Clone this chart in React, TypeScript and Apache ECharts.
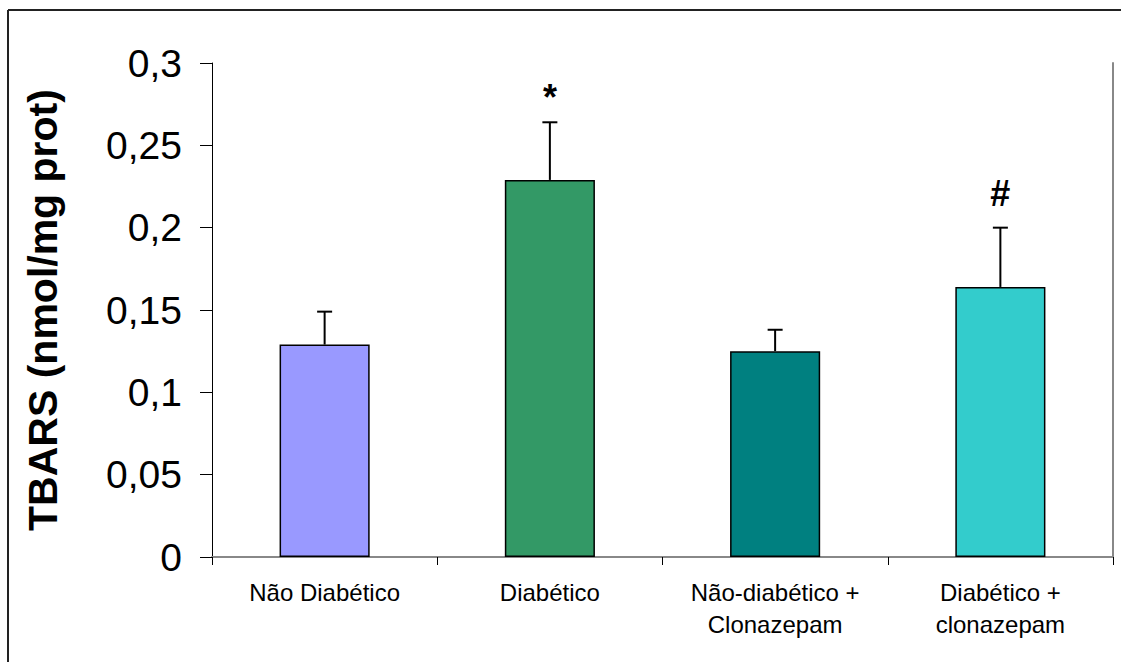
import React, { useEffect, useRef } from "react";
import * as echarts from "echarts";

// Groups, mean TBARS levels and the upper error (SEM) for each group
const categories = [
  "Não Diabético",
  "Diabético",
  "Não-diabético +\nClonazepam",
  "Diabético +\nclonazepam",
];
const means = [0.129, 0.229, 0.125, 0.164];
const errors = [0.02, 0.035, 0.013, 0.036];
const significance = ["", "*", "", "#"];
const barColors = ["#9999FF", "#339966", "#008080", "#33CCCC"];
const yTitle = "TBARS (nmol/mg prot)";
const yMin = 0;
const yMax = 0.3;
const yStep = 0.05;

const FONT = "'Liberation Sans', Arial, sans-serif";

export default function App() {
  const ref = useRef<HTMLDivElement>(null);

  useEffect(() => {
    if (!ref.current) return;
    const chart = echarts.init(ref.current, null, { renderer: "svg" });

    const option = {
      animation: false,
      backgroundColor: "#ffffff",
      textStyle: { fontFamily: FONT },
      grid: { left: 212, right: 8, top: 63, bottom: 105, containLabel: false },
      graphic: [
        {
          type: "line",
          shape: { x1: 8, y1: 10, x2: 1130, y2: 10 },
          style: { stroke: "#222222", lineWidth: 2 },
          silent: true,
        },
        {
          type: "line",
          shape: { x1: 8, y1: 10, x2: 8, y2: 670 },
          style: { stroke: "#222222", lineWidth: 2 },
          silent: true,
        },
      ],
      xAxis: [
        {
          type: "category",
          data: categories,
          position: "bottom",
          axisLine: { lineStyle: { color: "#000000", width: 1 } },
          axisTick: { show: true, length: 8, lineStyle: { color: "#000000" } },
          axisLabel: {
            color: "#000000",
            fontFamily: FONT,
            fontSize: 24,
            lineHeight: 32,
            margin: 19,
            interval: 0,
          },
          splitLine: { show: false },
        },
        {
          type: "category",
          data: categories,
          position: "top",
          axisLine: { lineStyle: { color: "#888888", width: 2 } },
          axisTick: { show: false },
          axisLabel: { show: false },
        },
      ],
      yAxis: [
        {
          type: "value",
          min: yMin,
          max: yMax,
          interval: yStep,
          position: "left",
          name: yTitle,
          nameLocation: "middle",
          nameRotate: 90,
          nameGap: 149,
          nameTextStyle: {
            fontFamily: FONT,
            fontSize: 41,
            fontWeight: "bold",
            color: "#000000",
          },
          axisLine: { show: true, lineStyle: { color: "#000000", width: 1 } },
          axisTick: { show: true, length: 12, lineStyle: { color: "#000000" } },
          axisLabel: {
            color: "#000000",
            fontFamily: FONT,
            fontSize: 39,
            margin: 30,
            formatter: (v: number) => String(Math.round(v * 100) / 100).replace(".", ","),
          },
          splitLine: { show: false },
        },
        {
          type: "value",
          min: yMin,
          max: yMax,
          interval: yStep,
          position: "right",
          axisLine: { show: true, lineStyle: { color: "#888888", width: 2 } },
          axisTick: { show: false },
          axisLabel: { show: false },
          splitLine: { show: false },
        },
      ],
      series: [
        {
          type: "bar",
          xAxisIndex: 0,
          yAxisIndex: 0,
          barWidth: "40%",
          data: means.map((m, i) => ({
            value: m,
            itemStyle: { color: barColors[i], borderColor: "#000000", borderWidth: 1.5 },
          })),
        },
        {
          type: "custom",
          xAxisIndex: 0,
          yAxisIndex: 0,
          z: 5,
          data: means.map((m, i) => [i, m, m + errors[i]]),
          renderItem: (params: any, api: any) => {
            const idx = api.value(0);
            const base = api.coord([idx, api.value(1)]);
            const top = api.coord([idx, api.value(2)]);
            const capHalf = 7.5;
            const mark = significance[params.dataIndex];
            const children: any[] = [
              {
                type: "line",
                shape: { x1: base[0], y1: base[1], x2: top[0], y2: top[1] },
                style: { stroke: "#000000", lineWidth: 2 },
              },
              {
                type: "line",
                shape: { x1: top[0] - capHalf, y1: top[1], x2: top[0] + capHalf, y2: top[1] },
                style: { stroke: "#000000", lineWidth: 2 },
              },
            ];
            if (mark) {
              children.push({
                type: "text",
                x: top[0],
                y: top[1] - (mark === "*" ? 7 : 16),
                style: {
                  text: mark,
                  fontFamily: FONT,
                  fontSize: 36,
                  fontWeight: "bold",
                  fill: "#000000",
                  align: "center",
                  verticalAlign: "bottom",
                },
              });
            }
            return { type: "group", children };
          },
        },
      ],
    };

    chart.setOption(option as any);
    return () => chart.dispose();
  }, []);

  return (
    <div
      ref={ref}
      style={{ position: "fixed", left: 0, top: 0, width: 1121, height: 662, background: "#fff" }}
    />
  );
}
